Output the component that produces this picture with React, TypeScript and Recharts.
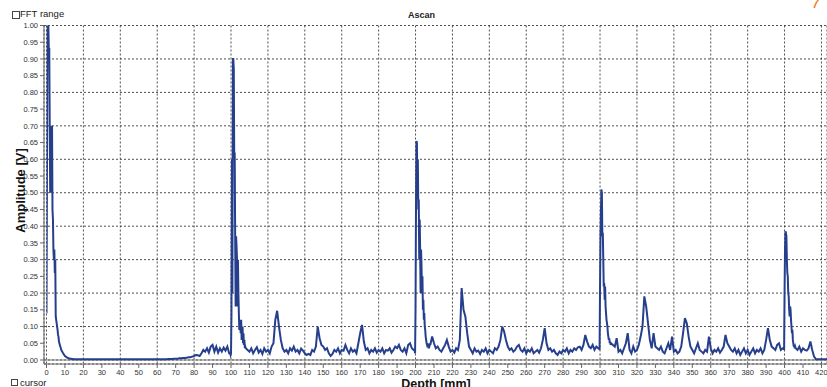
import { LineChart, Line, XAxis, YAxis, CartesianGrid, ReferenceLine } from 'recharts'

// depth ticks [mm] and amplitude ticks [V]
const depthTicks = [
  0, 10, 20, 30, 40, 50, 60, 70, 80, 90, 100, 110, 120, 130, 140, 150, 160, 170, 180, 190, 200,
  210, 220, 230, 240, 250, 260, 270, 280, 290, 300, 310, 320, 330, 340, 350, 360, 370, 380, 390,
  400, 410, 420,
]
const amplitudeTicks = [
  0, 0.05, 0.1, 0.15, 0.2, 0.25, 0.3, 0.35, 0.4, 0.45, 0.5, 0.55, 0.6, 0.65, 0.7, 0.75, 0.8, 0.85,
  0.9, 0.95, 1,
]

// coarse A-scan, one sample per mm (0..423 mm)
const baseStepMm = 1
const baseAmplitude = [
  0.14, 1.0, 0.7, 0.5, 0.33, 0.12, 0.1, 0.05, 0.035, 0.02,
  0.012, 0.008, 0.005, 0.004, 0.003, 0.002, 0.002, 0.002, 0.002, 0.002,
  0.002, 0.002, 0.002, 0.002, 0.002, 0.002, 0.002, 0.002, 0.002, 0.002,
  0.002, 0.002, 0.002, 0.002, 0.002, 0.002, 0.002, 0.002, 0.002, 0.002,
  0.002, 0.002, 0.002, 0.002, 0.002, 0.002, 0.002, 0.002, 0.002, 0.002,
  0.002, 0.002, 0.002, 0.002, 0.002, 0.002, 0.002, 0.002, 0.002, 0.002,
  0.002, 0.002, 0.002, 0.002, 0.002, 0.002, 0.003, 0.003, 0.003, 0.004,
  0.004, 0.004, 0.005, 0.005, 0.006, 0.006, 0.007, 0.008, 0.008, 0.01,
  0.012, 0.015, 0.014, 0.012, 0.02, 0.03, 0.025, 0.035, 0.022, 0.04,
  0.045, 0.025, 0.04, 0.022, 0.035, 0.025, 0.037, 0.028, 0.04, 0.02,
  0.02, 0.9, 0.6, 0.37, 0.3, 0.09, 0.08, 0.05, 0.04, 0.03,
  0.025, 0.035, 0.02, 0.03, 0.038, 0.022, 0.03, 0.018, 0.035, 0.025,
  0.03, 0.02, 0.04, 0.05, 0.12, 0.147, 0.1, 0.06, 0.035, 0.025,
  0.03, 0.02, 0.035, 0.028, 0.04, 0.025, 0.03, 0.02, 0.034, 0.028,
  0.02, 0.015, 0.018, 0.015, 0.03, 0.025, 0.04, 0.1, 0.065, 0.045,
  0.04, 0.03, 0.035, 0.02, 0.012, 0.018, 0.03, 0.025, 0.035, 0.02,
  0.03, 0.028, 0.045, 0.03, 0.02, 0.035, 0.025, 0.03, 0.02, 0.05,
  0.08, 0.105, 0.055, 0.03, 0.035, 0.02, 0.03, 0.025, 0.035, 0.022,
  0.03, 0.025, 0.035, 0.02, 0.03, 0.028, 0.035, 0.022, 0.03, 0.04,
  0.035, 0.045, 0.03, 0.025, 0.035, 0.02, 0.045, 0.05, 0.035, 0.03,
  0.15, 0.6, 0.45, 0.3, 0.25, 0.12, 0.07, 0.045, 0.04, 0.07,
  0.05, 0.035, 0.04, 0.03, 0.025, 0.035, 0.045, 0.06, 0.04, 0.025,
  0.03, 0.022, 0.035, 0.03, 0.06, 0.215, 0.15, 0.13, 0.08, 0.04,
  0.03, 0.02, 0.035, 0.025, 0.028, 0.018, 0.03, 0.025, 0.035, 0.02,
  0.03, 0.025, 0.02, 0.035, 0.03, 0.04, 0.06, 0.1, 0.085, 0.06,
  0.04, 0.03, 0.035, 0.025, 0.03, 0.04, 0.045, 0.03, 0.025, 0.035,
  0.02, 0.03, 0.025, 0.035, 0.02, 0.025, 0.03, 0.022, 0.035, 0.06,
  0.095, 0.05, 0.03, 0.035, 0.025, 0.03, 0.02, 0.015, 0.025, 0.02,
  0.03, 0.025, 0.035, 0.02, 0.03, 0.025, 0.035, 0.03, 0.038, 0.04,
  0.03, 0.045, 0.075, 0.055, 0.04, 0.035, 0.045, 0.03, 0.04, 0.035,
  0.22, 0.51, 0.36, 0.23, 0.14, 0.07, 0.05, 0.045, 0.04, 0.065,
  0.025, 0.03, 0.02, 0.035, 0.05, 0.08, 0.03, 0.02, 0.04, 0.025,
  0.03, 0.045, 0.07, 0.1, 0.19, 0.16, 0.11, 0.06, 0.035, 0.08,
  0.04, 0.035, 0.03, 0.04, 0.025, 0.02, 0.035, 0.05, 0.03, 0.07,
  0.025, 0.03, 0.02, 0.025, 0.04, 0.08, 0.125, 0.11, 0.07, 0.04,
  0.03, 0.02, 0.035, 0.05, 0.03, 0.025, 0.02, 0.03, 0.025, 0.07,
  0.035, 0.02, 0.03, 0.025, 0.035, 0.022, 0.03, 0.04, 0.075, 0.05,
  0.04, 0.03, 0.025, 0.035, 0.02, 0.03, 0.015, 0.025, 0.035, 0.02,
  0.03, 0.015, 0.025, 0.035, 0.02, 0.03, 0.025, 0.035, 0.02, 0.03,
  0.06, 0.095, 0.06, 0.04, 0.035, 0.03, 0.045, 0.05, 0.03, 0.035,
  0.2, 0.37, 0.25, 0.13, 0.1, 0.05, 0.035, 0.03, 0.04, 0.025,
  0.035, 0.03, 0.028, 0.035, 0.055, 0.03, 0.01, 0.002, 0.002, 0.002,
  0.002, 0.002, 0.002, 0.002,
]

// finer samples (0.25 mm) around the initial pulse and the back-wall echoes
const fineStepMm = 0.25
const initialPulse = [
  0.14, 0.55, 1.0, 1.0, 1.0, 0.93, 0.93, 0.7, 0.5, 0.7, 0.68, 0.5, 0.7, 0.45, 0.42, 0.33, 0.3,
  0.33, 0.26, 0.3, 0.13, 0.12, 0.11, 0.1, 0.09, 0.075, 0.07, 0.055, 0.05, 0.045, 0.04, 0.036, 0.03,
]
const echo100 = [
  0.02, 0.015, 0.02, 0.14, 0.6, 0.2, 0.9, 0.9, 0.87, 0.6, 0.62, 0.37, 0.16, 0.37, 0.34, 0.3, 0.16,
  0.3, 0.2, 0.14, 0.09, 0.12, 0.1, 0.08, 0.12, 0.06, 0.09, 0.1, 0.05, 0.08, 0.045, 0.06, 0.035,
  0.04, 0.035,
]
const echo200 = [
  0.03, 0.02, 0.15, 0.45, 0.655, 0.65, 0.48, 0.6, 0.45, 0.48, 0.3, 0.42, 0.33, 0.2, 0.33, 0.28,
  0.2, 0.25, 0.15, 0.18, 0.12, 0.14, 0.1, 0.09, 0.07, 0.06, 0.05, 0.045, 0.05, 0.04, 0.045, 0.035,
  0.04, 0.05, 0.045,
]
const echo300 = [
  0.035, 0.03, 0.22, 0.38, 0.45, 0.51, 0.5, 0.37, 0.38, 0.3, 0.22, 0.23, 0.18, 0.22, 0.16, 0.14,
  0.12, 0.11, 0.1, 0.08, 0.07, 0.06, 0.065, 0.05, 0.055, 0.045, 0.05,
]
const echo400 = [
  0.035, 0.03, 0.2, 0.33, 0.385, 0.38, 0.37, 0.3, 0.26, 0.25, 0.2, 0.19, 0.15, 0.13, 0.16, 0.15,
  0.12, 0.1, 0.08, 0.09, 0.06, 0.05, 0.04, 0.045, 0.035, 0.04, 0.035,
]
const fineSegments = [
  { start: 0, values: initialPulse },
  { start: 99.5, values: echo100 },
  { start: 199.5, values: echo200 },
  { start: 299.5, values: echo300 },
  { start: 399.5, values: echo400 },
]

function buildTrace() {
  const inFine = (d: number) =>
    fineSegments.some((s) => d >= s.start && d <= s.start + (s.values.length - 1) * fineStepMm)
  const pts: { depth: number; amplitude: number }[] = []
  baseAmplitude.forEach((v, i) => {
    const d = i * baseStepMm
    if (!inFine(d)) pts.push({ depth: d, amplitude: v })
  })
  fineSegments.forEach((s) =>
    s.values.forEach((v, i) => pts.push({ depth: s.start + i * fineStepMm, amplitude: v })),
  )
  return pts.sort((a, b) => a.depth - b.depth)
}

const trace = buildTrace()
const tickFont = { fontSize: 7.5, fill: '#333', fontFamily: 'Liberation Sans, Arial, sans-serif' }

export default function App() {
  return (
    <div style={{ position: 'relative', width: 827, height: 387, overflow: 'hidden', background: '#fff', fontFamily: 'Liberation Sans, Arial, sans-serif' }}>
      <style>{'body{margin:0}'}</style>
      <LineChart width={827} height={387} data={trace} margin={{ top: 25.5, right: 0, bottom: 0, left: 0 }}>
        <CartesianGrid stroke="#3a3a3a" strokeDasharray="2 2" strokeWidth={0.9} />
        <XAxis
          dataKey="depth"
          type="number"
          domain={[0, 423]}
          ticks={depthTicks}
          padding={{ left: 2.5, right: 0 }}
          height={23}
          tickSize={4}
          tickMargin={2}
          stroke="#666"
          tick={tickFont}
          allowDataOverflow
        />
        <YAxis
          type="number"
          domain={[-0.012, 1]}
          ticks={amplitudeTicks}
          width={44}
          tickSize={4}
          tickMargin={2}
          stroke="#666"
          tick={tickFont}
          tickFormatter={(v: number) => v.toFixed(2)}
          allowDataOverflow
        />
        <ReferenceLine y={0} stroke="#777" strokeWidth={1} />
        <Line
          type="linear"
          dataKey="amplitude"
          stroke="#263f8d"
          strokeWidth={2}
          dot={false}
          isAnimationActive={false}
        />
      </LineChart>

      <div style={{ position: 'absolute', left: 12, top: 11, width: 6, height: 6, border: '1px solid #444', background: '#fff' }} />
      <div style={{ position: 'absolute', left: 20, top: 8, fontSize: 9.5, color: '#222', background: '#fff', padding: '0 2px 0 0' }}>FFT range</div>
      <div style={{ position: 'absolute', left: 0, width: 827, top: 10, textAlign: 'center', fontSize: 9, fontWeight: 'bold', color: '#222', paddingLeft: 16, boxSizing: 'border-box' }}>Ascan</div>
      <div style={{ position: 'absolute', right: 6, top: -7, fontSize: 17, color: '#f07d1e', fontStyle: 'italic' }}>7</div>

      <div style={{ position: 'absolute', left: 20, top: 95, width: 0, height: 190, display: 'flex', alignItems: 'center', justifyContent: 'center' }}>
        <div style={{ transform: 'rotate(-90deg)', whiteSpace: 'nowrap', fontSize: 13, fontWeight: 'bold', color: '#111' }}>Amplitude [V]</div>
      </div>
      <div style={{ position: 'absolute', left: 336, width: 200, top: 377.5, lineHeight: '12px', textAlign: 'center', fontSize: 12.5, fontWeight: 'bold', color: '#111' }}>Depth [mm]</div>

      <div style={{ position: 'absolute', left: 11, top: 379, width: 5, height: 5, border: '1px solid #444' }} />
      <div style={{ position: 'absolute', left: 20, top: 377, fontSize: 9.5, color: '#222' }}>cursor</div>
    </div>
  )
}
